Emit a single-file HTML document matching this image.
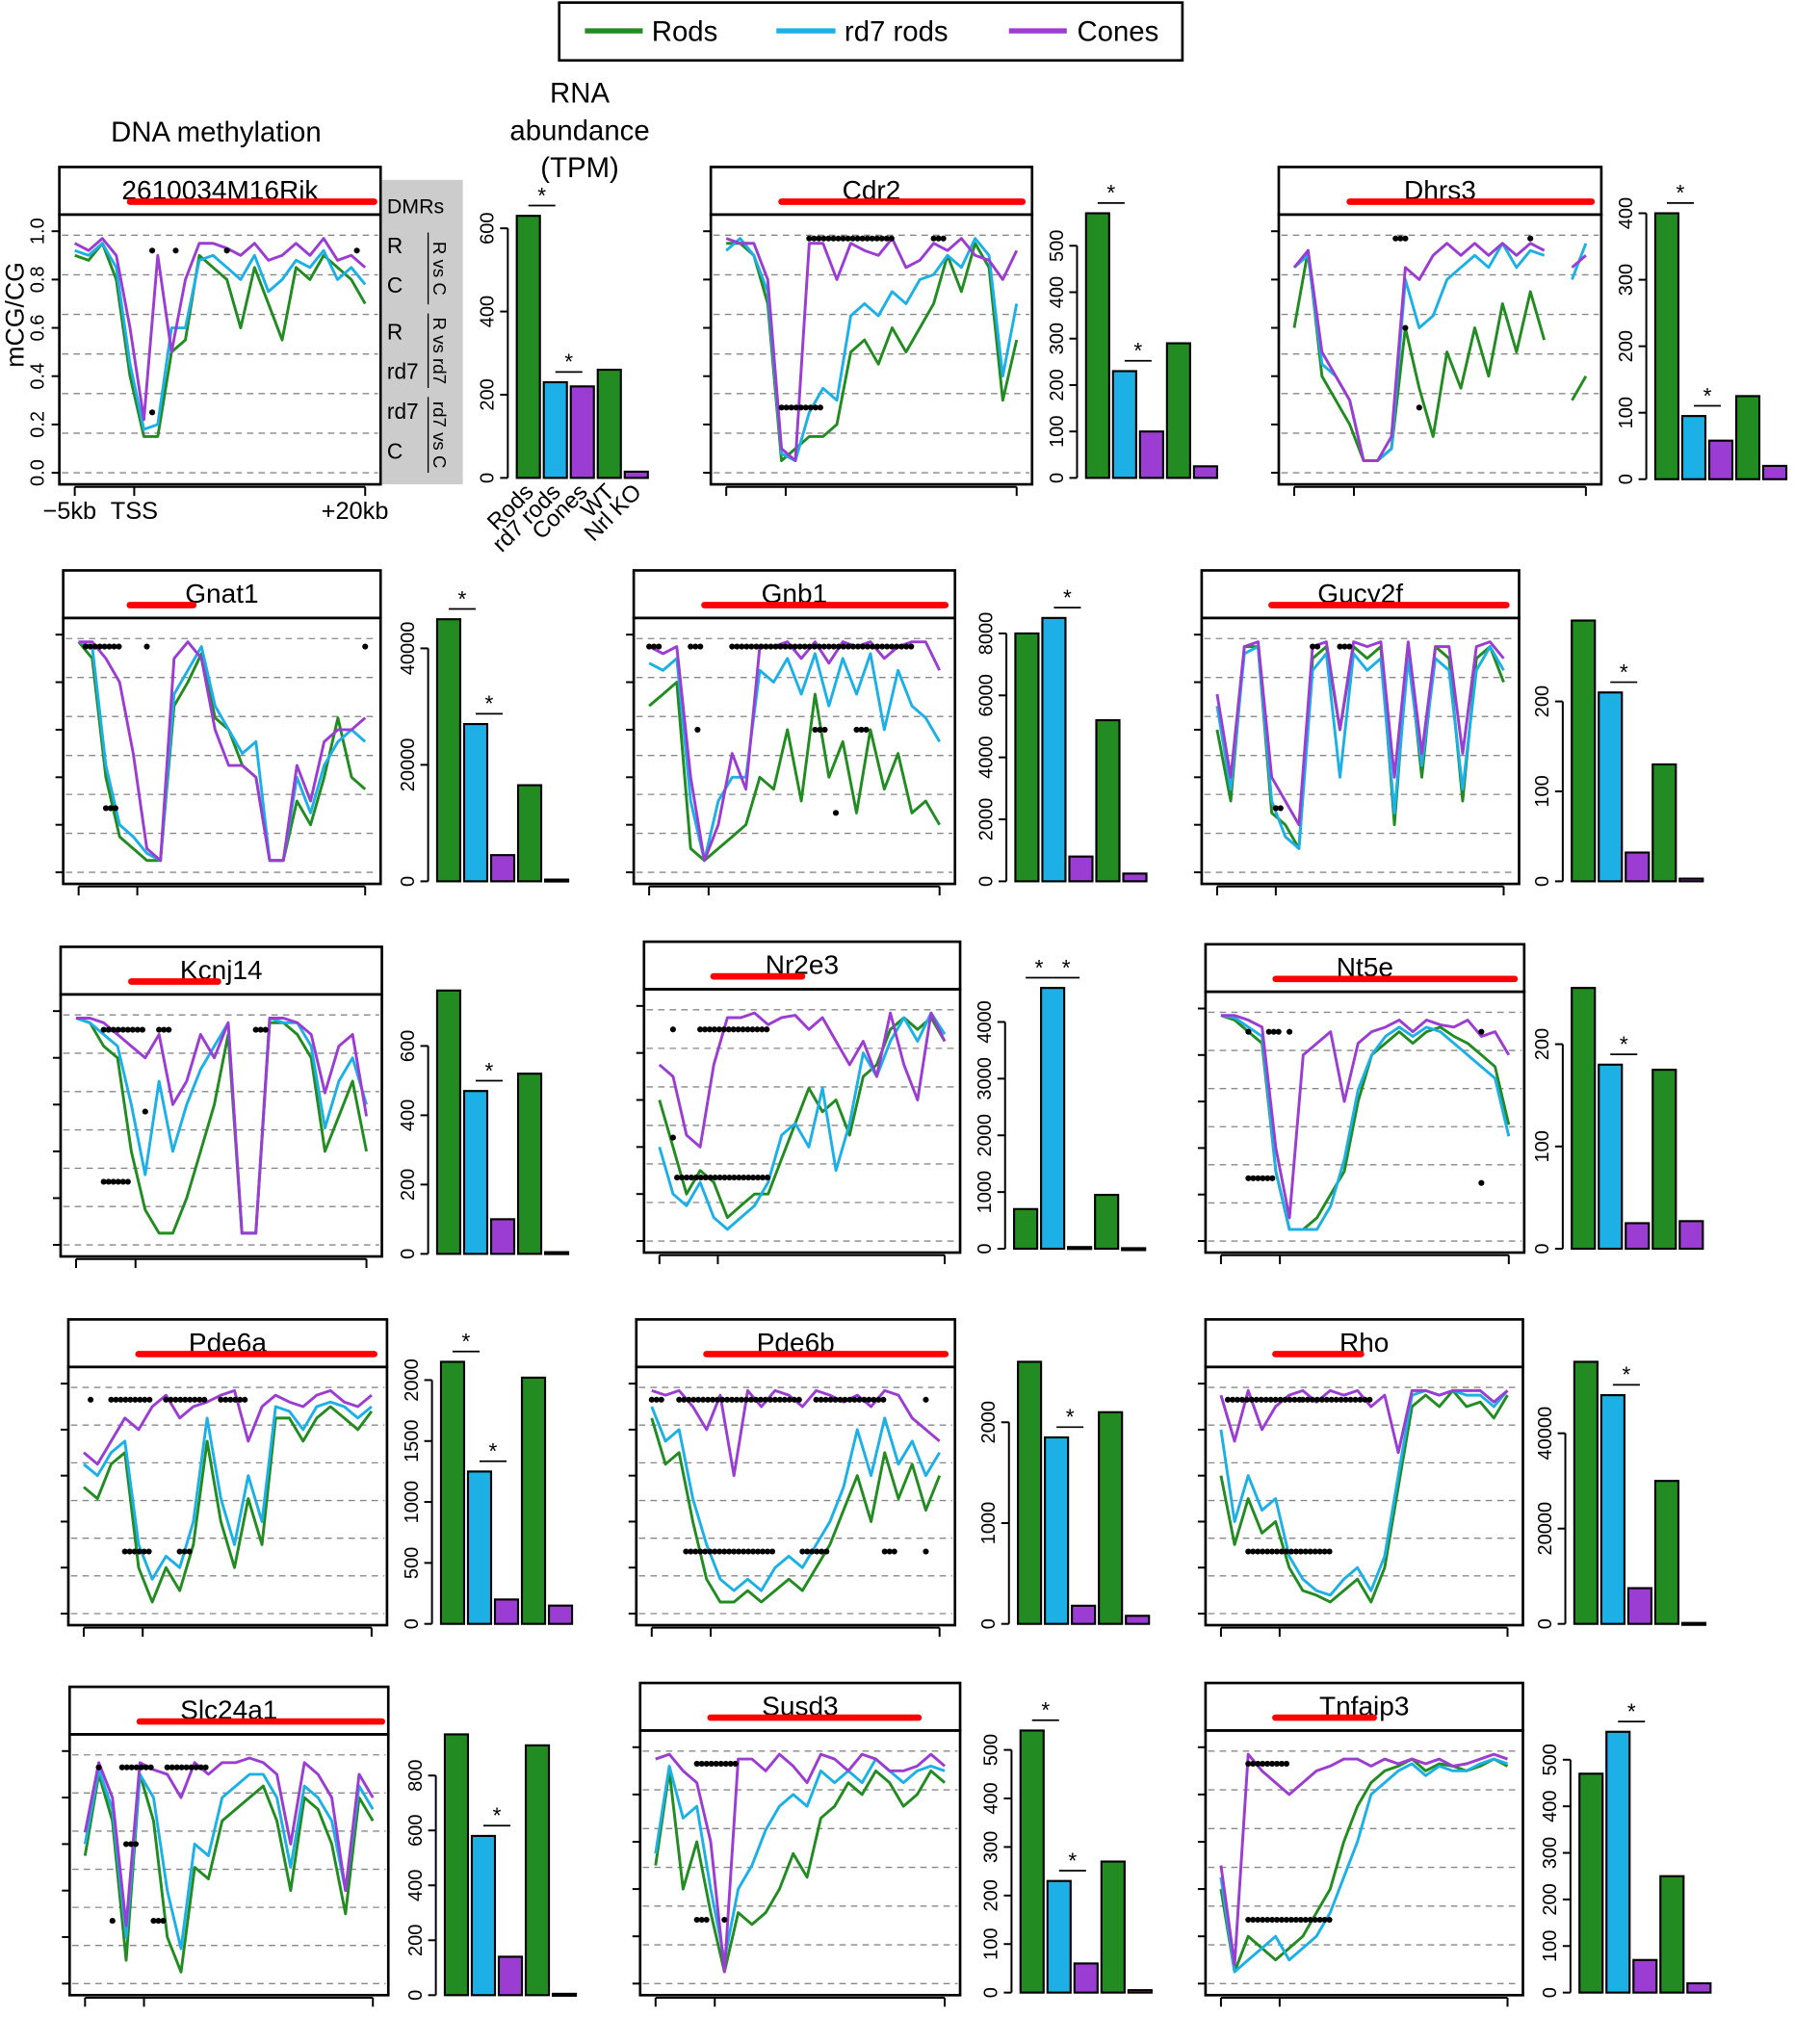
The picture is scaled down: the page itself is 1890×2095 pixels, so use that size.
<!DOCTYPE html>
<html><head><meta charset="utf-8"><style>
html,body{margin:0;padding:0;background:#fff;}
svg{display:block;font-family:"Liberation Sans",Arial,sans-serif;}
</style></head><body>
<svg id="fig" xmlns="http://www.w3.org/2000/svg" width="1890" height="2095" viewBox="0 0 1416 1570">
<g>
<rect x="435" y="2" width="485" height="45" fill="#fff" stroke="#000" stroke-width="2"/>
<line x1="455" y1="24" x2="500" y2="24" stroke="#228B22" stroke-width="4"/><text x="507" y="32" font-size="22">Rods</text>
<line x1="604" y1="24" x2="650" y2="24" stroke="#1CB0E6" stroke-width="4"/><text x="657" y="32" font-size="22">rd7 rods</text>
<line x1="785" y1="24" x2="830" y2="24" stroke="#9B3CD2" stroke-width="4"/><text x="838" y="32" font-size="22">Cones</text>
</g>
<text x="168" y="110" font-size="22" text-anchor="middle">DNA methylation</text>
<g font-size="22" text-anchor="middle">
<text x="451" y="80">RNA</text><text x="451" y="109">abundance</text><text x="451" y="138">(TPM)</text></g>
<g id="plots"></g>
</svg>
<script>
const genes=["2610034M16Rik","Cdr2","Dhrs3","Gnat1","Gnb1","Gucy2f","Kcnj14","Nr2e3","Nt5e","Pde6a","Pde6b","Rho","Slc24a1","Susd3","Tnfaip3"];
const rodsMeth=[
[90,88,95,80,40,15,15,50,55,90,85,80,60,85,70,55,85,80,90,85,80,70],
[95,95,90,70,5,10,15,15,20,50,55,45,60,50,60,70,90,75,95,85,30,55],
[60,92,40,30,20,5,5,10,60,35,15,50,35,60,40,70,50,75,55,null,30,40],
[97,90,40,15,10,5,5,70,80,92,65,60,45,40,5,5,30,20,40,65,40,35],
[70,75,80,10,5,10,15,20,40,35,60,30,75,40,55,25,60,35,50,25,30,20],
[60,30,95,95,25,20,10,90,95,60,95,90,95,20,95,40,95,90,30,90,95,80],
[97,95,85,80,40,15,5,5,20,40,60,90,5,5,95,95,90,80,40,55,70,40],
[60,40,20,30,25,10,15,20,20,35,50,65,55,60,45,70,75,90,95,90,95,85],
[97,95,90,85,30,5,5,10,20,30,60,80,85,90,85,90,92,88,85,80,75,50],
[55,50,65,70,20,5,20,10,30,75,40,20,50,30,85,85,75,85,90,85,80,88],
[85,65,70,40,15,5,5,10,5,10,15,10,20,30,45,60,40,70,50,65,45,60],
[60,30,50,35,40,20,10,8,5,10,15,5,20,55,90,95,90,97,90,92,85,95],
[55,90,70,10,90,70,20,5,50,45,70,75,80,85,70,40,80,75,60,30,80,70],
[50,90,40,60,30,5,30,25,30,40,55,45,70,75,85,80,90,85,75,80,90,85],
[40,5,20,15,10,15,20,30,40,60,75,85,90,92,95,90,93,92,90,92,95,92]];
const rd7Meth=[
[92,90,95,85,45,18,20,60,60,88,90,85,80,90,75,80,88,85,92,80,85,78],
[92,97,90,75,8,5,25,35,30,65,70,65,75,70,80,82,90,85,97,90,40,70],
[85,90,45,40,30,5,5,10,80,60,65,80,85,90,85,95,85,92,90,null,80,95],
[97,95,45,20,15,8,5,75,85,95,70,60,50,55,5,5,40,25,45,55,60,55],
[88,85,90,30,5,30,40,40,85,80,90,75,92,70,90,75,92,60,85,70,65,55],
[70,35,92,95,30,15,10,85,92,40,92,85,90,25,90,45,90,85,35,85,95,85],
[97,95,90,85,60,30,70,40,60,75,85,95,5,5,97,95,95,85,50,70,80,60],
[40,20,15,25,10,5,10,15,25,45,50,40,65,30,50,80,70,85,95,85,97,88],
[97,96,92,88,30,5,5,5,15,35,65,80,88,92,88,92,90,85,80,75,70,45],
[65,60,70,75,30,15,25,20,40,85,50,30,60,40,90,88,80,90,92,90,85,90],
[90,75,80,50,30,15,10,15,10,20,25,20,30,40,55,80,60,85,65,75,60,70],
[80,40,60,45,50,25,15,10,8,15,20,10,25,60,95,97,95,97,95,95,90,97],
[60,92,75,20,90,80,40,15,60,55,80,85,90,90,80,50,85,80,70,40,85,75],
[55,92,70,75,40,10,40,50,65,75,80,75,90,85,90,85,95,90,85,90,92,90],
[45,5,10,15,20,10,15,20,30,45,60,80,85,90,93,88,92,90,90,93,95,93]];
const conesMeth=[
[95,92,97,90,60,22,90,50,80,95,95,93,90,95,88,90,95,90,97,88,90,85],
[97,95,95,80,10,5,95,95,80,95,92,90,97,85,88,95,92,97,90,88,80,92],
[85,92,50,40,30,5,5,15,85,80,90,95,90,95,90,95,90,95,92,null,85,90],
[97,97,90,80,50,10,5,90,97,90,60,45,45,40,5,5,45,30,55,60,60,65],
[95,92,95,40,5,20,50,35,95,95,97,90,97,88,97,95,97,90,95,97,97,85],
[75,40,95,97,40,30,20,95,97,60,97,95,97,40,97,50,95,95,50,95,97,90],
[97,97,95,90,85,80,90,60,70,90,80,95,5,5,97,97,95,90,65,85,90,55],
[75,70,45,40,75,95,95,97,92,95,96,90,95,85,75,85,70,97,75,60,97,85],
[97,97,95,92,40,10,80,85,90,60,85,90,92,95,90,95,93,92,95,88,90,80],
[70,65,75,85,80,90,95,85,90,92,95,97,75,90,95,92,90,95,97,92,90,95],
[97,95,97,90,80,95,60,97,90,97,95,90,97,95,92,95,90,97,95,85,80,75],
[95,75,97,80,90,95,97,92,97,95,97,90,95,70,97,97,95,97,97,97,92,97],
[65,95,80,25,95,92,90,80,95,90,95,95,97,95,90,60,95,90,80,40,90,80],
[95,97,90,85,60,5,95,95,90,97,92,85,97,95,90,97,95,90,90,92,97,92],
[50,8,97,90,85,80,85,90,92,95,95,92,95,93,95,93,95,92,93,95,97,95]];
const barVals=[
[630,230,220,260,15],[570,230,100,290,25],[400,95,58,125,20],[45000,27000,4500,16500,300],
[8000,8500,800,5200,250],[290,210,32,130,3],[760,470,100,520,5],[700,4600,30,950,10],
[255,180,25,175,27],[2150,1250,200,2020,150],[2600,1850,180,2100,80],[55000,48000,7500,30000,200],
[950,580,140,910,5],[540,230,60,270,5],[470,560,70,250,20]];
const barTicks=[
[0,200,400,600],[0,100,200,300,400,500],[0,100,200,300,400],[0,20000,40000],
[0,2000,4000,6000,8000],[0,100,200],[0,200,400,600],[0,1000,2000,3000,4000],
[0,100,200],[0,500,1000,1500,2000],[0,1000,2000],[0,20000,40000],
[0,200,400,600,800],[0,100,200,300,400,500],[0,100,200,300,400,500]];
const sigPairs=[[[0,1],[1,2]],[[0,1],[1,2]],[[0,1],[1,2]],[[0,1],[1,2]],[[1,2]],[[1,2]],[[1,2]],[[0,1],[1,2]],[[1,2]],[[0,1],[1,2]],[[1,2]],[[1,2]],[[1,2]],[[0,1],[1,2]],[[1,2]]];
const redSpan=[[0.22,0.98],[0.22,0.97],[0.22,0.97],[0.21,0.41],[0.22,0.97],[0.22,0.96],[0.22,0.49],[0.22,0.5],[0.22,0.97],[0.22,0.96],[0.22,0.97],[0.22,0.49],[0.22,0.98],[0.22,0.87],[0.22,0.53]];
const dmrDots=[
[[5.6,5.6,92],[7.3,7.3,92],[11,11,92],[20.4,20.4,92],[5.6,5.6,25]],
[[6,12,97],[15,16,97],[4,7,27]],
[[7.3,8,97],[8,8,60],[9,9,27],[17,17,97]],
[[0.5,3,95],[2,2.7,27],[5,5,95],[21,21,95]],
[[0,1,95],[3,4,95],[6,19,95],[3.5,3.5,60],[12,13,60],[15,16,60],[13.5,13.5,25]],
[[4.3,4.8,27],[7,7.5,95],[9,10,95]],
[[2,5,92],[6,7,92],[13,14,92],[2,4,27],[5,5,57]],
[[1,1,90],[3,8,90],[1,1,44],[1.3,8,27]],
[[2,2,90],[3.5,4.5,90],[5,5,90],[2,4,27],[19,19,90],[19,19,25]],
[[0.5,0.5,93],[2,5,93],[6,9,93],[10,12,93],[3,5,27],[7,8,27]],
[[0,1,93],[2,11,93],[12,17,93],[20,20,93],[2.5,9,27],[11,13,27],[17,18,27],[20,20,27]],
[[0.5,6,93],[6,11,93],[2,8,27]],
[[1,1,93],[2.7,5,93],[6,9,93],[3,4,60],[2,2,27],[5,6,27]],
[[3,6,93],[3,4,27],[5,5,27]],
[[2,5,93],[2,8,27]]];
// layout: x, width, titleTop, plotBottom, barAxisX, tallestBarTopY, barBaseY
const layout=[
[46,250,130,377,395,168,372],[553,250,130,377,838,166,372],[995,251,130,377,1281,166,373],
[49,247,444,688,333,482,686],[493,250,444,688,783,481,686],[935,247,444,688,1216,483,686],
[47,250,737,978,333,771,976],[501,246,733,975,782,769,972],[938,248,735,975,1216,769,972],
[53,248,1027,1265,336,1060,1264],[495,248,1027,1265,785,1060,1264],[938,247,1027,1265,1218,1060,1264],
[54,248,1313,1553,339,1350,1553],[498,249,1310,1553,787,1347,1551],[938,247,1310,1553,1222,1348,1551]];
const COLORS=["#228B22","#1CB0E6","#9B3CD2"];
const barColors=["#228B22","#1CB0E6","#9B3CD2","#228B22","#9B3CD2"];
const NS="http://www.w3.org/2000/svg";
const root=document.getElementById("plots");
function mk(tag,attrs,parent,txt){const e=document.createElementNS(NS,tag);for(const k in attrs)e.setAttribute(k,attrs[k]);if(txt!==undefined)e.textContent=txt;(parent||root).appendChild(e);return e;}
genes.forEach((g,gi)=>{
  const [x,w,tt,pb,ax,btop,bbase]=layout[gi];
  const grp=mk("g",{});
  
  
  const pt=tt+37, ph=pb-pt;
  const xs=i=>x+12+i*(w-24)/21;
  const ys=v=>pb-9-v/100*(ph-22);
  const tb=mk("rect",{x:x,y:tt,width:w,height:37,fill:"#fff",stroke:"#000","stroke-width":2},grp);
  
  
  const tl=mk("text",{x:x+w/2,y:tt+25,"font-size":21,"text-anchor":"middle"},grp,g);
  
  
  const rs=redSpan[gi];
  const rl=mk("line",{x1:x+rs[0]*w,x2:x+rs[1]*w,y1:tt+27,y2:tt+27,stroke:"#f00","stroke-width":5,"stroke-linecap":"round"},grp);
  
  
  for(let k=0;k<=6;k++){const v=k*100/6.1;mk("line",{x1:x+2,x2:x+w-2,y1:ys(v),y2:ys(v),stroke:"#888","stroke-width":1,"stroke-dasharray":"5,4"},grp);}
  [0,20,40,60,80,100].forEach(v=>{mk("line",{x1:x-6,x2:x,y1:ys(v),y2:ys(v),stroke:"#000","stroke-width":1.5},grp);
    if(gi===0){const t=mk("text",{x:x-12,y:ys(v),"font-size":15,"text-anchor":"middle",transform:`rotate(-90 ${x-12} ${ys(v)})`},grp,(v/100).toFixed(1));
      
      }});
  const xa=[xs(0),xs(4.3),xs(21)];
  mk("line",{x1:xa[0],x2:xa[2],y1:pb+2,y2:pb+2,stroke:"#000","stroke-width":1.5},grp);
  xa.forEach(xx=>mk("line",{x1:xx,x2:xx,y1:pb+2,y2:pb+9,stroke:"#000","stroke-width":1.5},grp));
  if(gi===0){["−5kb","TSS","+20kb"].forEach((s,i)=>{const t=mk("text",{x:xa[i]+(i==2?-8:0)-(i==0?4:0),y:pb+27,"font-size":19,"text-anchor":"middle"},grp,s);
    
    });}
  [rodsMeth,rd7Meth,conesMeth].forEach((arr,si)=>{
    const vals=arr[gi];let d="",pen=false;
    vals.forEach((v,i)=>{if(v===null){pen=false;return;}d+=(pen?"L":"M")+xs(i).toFixed(1)+","+ys(v).toFixed(1);pen=true;});
    const p=mk("path",{d:d,fill:"none",stroke:COLORS[si],"stroke-width":2.2,"stroke-linejoin":"round"},grp);
    
    
  });
  dmrDots[gi].forEach(([a,b,v])=>{for(let i=a;i<=b+0.01;i+=0.35){const c=mk("circle",{cx:xs(i),cy:ys(v),r:2.3,fill:"#000"},grp);
    
    }});
  mk("rect",{x:x,y:pt,width:w,height:ph,fill:"none",stroke:"#000","stroke-width":2},grp);
  const bv=barVals[gi],vmax=Math.max(...bv);
  const by=v=>bbase-v/vmax*(bbase-btop);
  const bt=barTicks[gi];
  mk("line",{x1:ax,x2:ax,y1:by(bt[0]),y2:by(bt[bt.length-1]),stroke:"#000","stroke-width":1.5},grp);
  bt.forEach(v=>{mk("line",{x1:ax-6,x2:ax,y1:by(v),y2:by(v),stroke:"#000","stroke-width":1.5},grp);
    const t=mk("text",{x:ax-11,y:by(v),"font-size":15,"text-anchor":"middle",transform:`rotate(-90 ${ax-11} ${by(v)})`},grp,String(v));
    
    });
  const bx=i=>ax+7+i*21;
  bv.forEach((v,i)=>{const r=mk("rect",{x:bx(i),y:by(v),width:18,height:Math.max(bbase-by(v),1.5),fill:barColors[i],stroke:"#000","stroke-width":1.6},grp);
    
    });
  sigPairs[gi].forEach(([a,b])=>{const yy=Math.min(by(bv[a]),by(bv[b]))-8;
    mk("line",{x1:bx(a)+9,x2:bx(b)+9,y1:yy,y2:yy,stroke:"#000","stroke-width":1.3},grp);
    const s=mk("text",{x:(bx(a)+bx(b))/2+9,y:yy-2,"font-size":17,"text-anchor":"middle"},grp,"*");
    
    });
  if(gi===0){["Rods","rd7 rods","Cones","WT","Nrl KO"].forEach((s,i)=>{const xx=bx(i)+14,yy=bbase+12;
    const t=mk("text",{x:xx,y:yy,"font-size":18,"text-anchor":"end",transform:`rotate(-45 ${xx} ${yy})`},grp,s);
    
    });}
});
const dg=mk("g",{});


mk("rect",{x:297,y:140,width:63,height:237,fill:"#ccc"},dg);
mk("text",{x:301,y:166,"font-size":16},dg,"DMRs");
[["R",197],["C",228],["R",264],["rd7",295],["rd7",326],["C",357]].forEach(([s,y])=>mk("text",{x:301,y:y,"font-size":17},dg,s));
[["R vs C",181,237],["R vs rd7",244,302],["rd7 vs C",309,368]].forEach(([s,a,b])=>{
  mk("line",{x1:333,x2:333,y1:a,y2:b,stroke:"#000","stroke-width":1},dg);
  const m=(a+b)/2;mk("text",{x:337,y:m,"font-size":14,"text-anchor":"middle",transform:`rotate(90 337 ${m})`},dg,s);});
const yl=mk("text",{x:18,y:245,"font-size":20,"text-anchor":"middle",transform:"rotate(-90 18 245)"},root,"mCG/CG");


</script>
</body></html>
